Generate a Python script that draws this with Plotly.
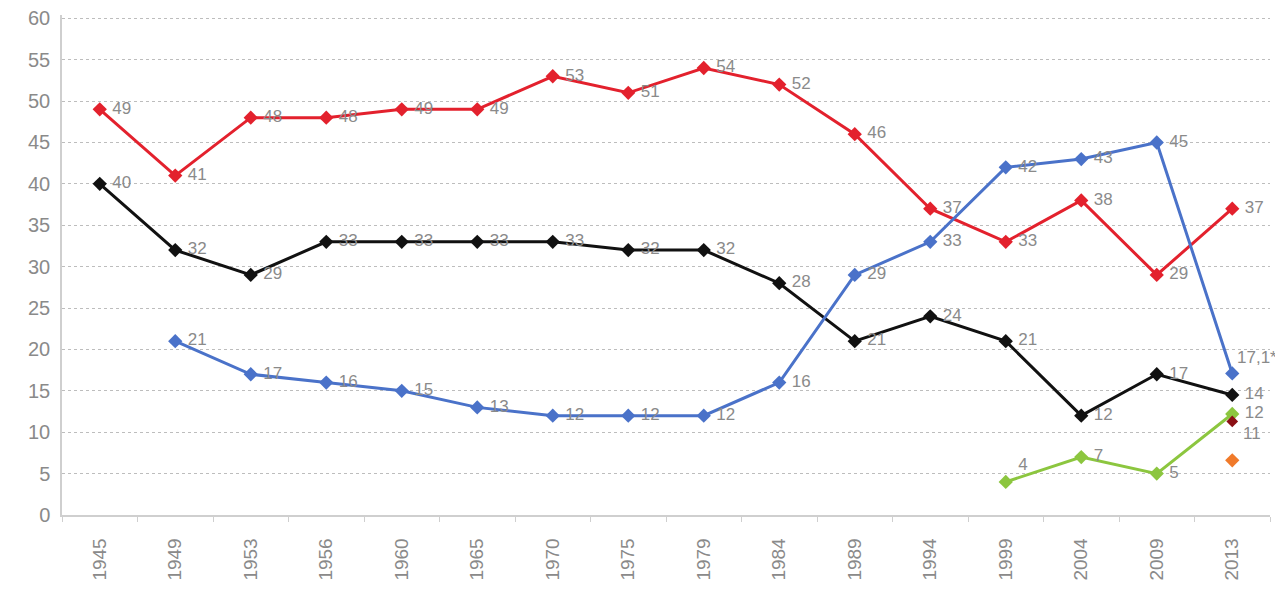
import plotly.graph_objects as go

years = ["1945", "1949", "1953", "1956", "1960", "1965", "1970", "1975",
         "1979", "1984", "1989", "1994", "1999", "2004", "2009", "2013"]
red = [49, 41, 48, 48, 49, 49, 53, 51, 54, 52, 46, 37, 33, 38, 29, 37]
black = [40, 32, 29, 33, 33, 33, 33, 32, 32, 28, 21, 24, 21, 12, 17, 14.5]
black_labels = ["40", "32", "29", "33", "33", "33", "33", "32", "32", "28", "21", "24", "21", "12", "17", "14"]
blue = [None, 21, 17, 16, 15, 13, 12, 12, 12, 16, 29, 33, 42, 43, 45, 17.1]
blue_labels = ["", "21", "17", "16", "15", "13", "12", "12", "12", "16", "29", "33", "42", "43", "45", ""]
blue_last_label = "17,1*"
green_years = ["1999", "2004", "2009", "2013"]
green = [4, 7, 5, 12.2]
green_labels = ["4", "7", "5", "12"]
darkred_years = ["2013"]
darkred = [11.3]
darkred_labels = ["11"]
orange_years = ["2013"]
orange = [6.6]

yticks = [0, 5, 10, 15, 20, 25, 30, 35, 40, 45, 50, 55, 60]

label_font = dict(family="Liberation Sans, Arial", size=17, color="#8a8a8a")

def series(x, y, color, labels, positions=None, width=3):
    return go.Scatter(
        x=x, y=y, mode="lines+markers+text",
        line=dict(color=color, width=width),
        marker=dict(symbol="diamond", size=11, color=color),
        text=[(" " + t) if t else "" for t in labels],
        textposition=positions if positions else "middle right",
        textfont=label_font,
        cliponaxis=False,
        connectgaps=False,
        showlegend=False,
        hoverinfo="skip",
    )

fig = go.Figure()
fig.add_trace(series(years, red, "#e3212d", [str(v) for v in red]))
fig.add_trace(series(years, black, "#111111", black_labels))
fig.add_trace(series(years, blue, "#4a72c9", blue_labels))
fig.add_trace(series(green_years, green, "#8cc63f", green_labels,
                     ["top right", "middle right", "middle right", "middle right"]))
fig.add_trace(go.Scatter(x=darkred_years, y=darkred, mode="markers",
                         marker=dict(symbol="diamond", size=9, color="#8b0f14"),
                         cliponaxis=False, showlegend=False, hoverinfo="skip"))
fig.add_trace(go.Scatter(x=orange_years, y=orange, mode="markers",
                         marker=dict(symbol="diamond", size=11, color="#f07a2a"),
                         cliponaxis=False, showlegend=False, hoverinfo="skip"))

fig.add_annotation(x=years.index("2013"), y=blue[-1], text=blue_last_label, showarrow=False,
                   xref="x", yref="y",
                   xanchor="center", yanchor="bottom", xshift=25, yshift=4,
                   font=label_font)
fig.add_annotation(x=years.index("2013"), y=darkred[0], text=darkred_labels[0], showarrow=False,
                   xref="x", yref="y",
                   xanchor="left", yanchor="top", xshift=9, yshift=-1,
                   font=label_font)

fig.update_layout(
    width=1283, height=592,
    margin=dict(l=54, r=21, t=7, b=85),
    plot_bgcolor="white", paper_bgcolor="white",
    font=dict(family="Liberation Sans, Arial", color="#8a8a8a"),
)
fig.update_xaxes(
    type="category", categoryorder="array", categoryarray=years,
    tickangle=-90, tickfont=dict(size=19, color="#8a8a8a"),
    showgrid=False, showline=True, linecolor="#cfcfcf", linewidth=1.5,
    ticks="outside", tickson="boundaries", ticklen=5, tickcolor="#cfcfcf",
    ticklabelstandoff=14,
    range=[-0.5, 15.5], automargin=False,
)
fig.update_yaxes(
    range=[0, 60.4], tickvals=yticks, tickfont=dict(size=20, color="#8a8a8a"),
    showgrid=True, gridcolor="#bdbdbd", griddash="dot", gridwidth=1,
    showline=True, linecolor="#cfcfcf", linewidth=1.5, zeroline=False,
    ticks="", ticklen=0, ticklabelstandoff=6, automargin=False,
    ticklabeloverflow="allow",
)

fig.write_html("out.html")
